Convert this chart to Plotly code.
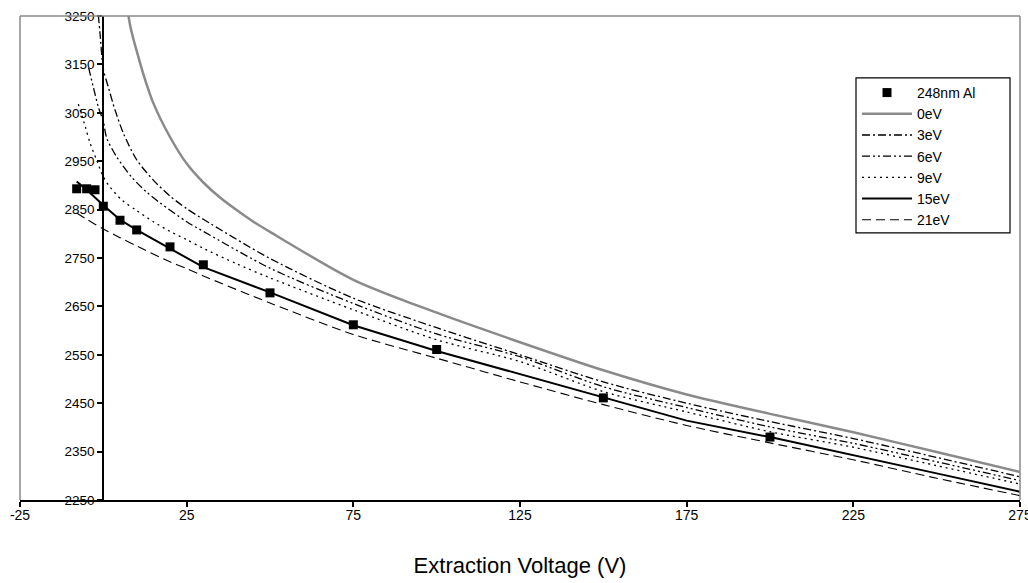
import plotly.graph_objects as go

# ---------------- data ----------------
pts_x = [-8, -5, -2.5, 0, 5, 10, 20, 30, 50, 75, 100, 150, 200]
pts_y = [2893, 2893, 2891, 2857, 2828, 2808, 2773, 2736, 2678, 2612, 2561, 2461, 2380]

e0_x = [7.3, 8, 9, 10, 12, 15, 20, 25, 30, 35, 40, 45, 50, 75, 100, 125, 150, 175, 200, 225, 250, 275]
e0_y = [3262, 3232, 3203, 3178, 3130, 3070, 3000, 2945, 2906, 2875, 2849, 2825, 2804, 2705, 2637, 2576, 2518, 2468, 2428, 2390, 2349, 2308]

e3_x = [-1.5, -1, 0, 1.5, 3.5, 6, 10, 15, 20, 25, 30, 50, 75, 100, 125, 150, 175, 200, 225, 250, 275]
e3_y = [3252, 3215, 3140, 3103, 3056, 3008, 2953, 2911, 2878, 2852, 2830, 2749, 2667, 2606, 2550, 2494, 2450, 2412, 2377, 2338, 2298]

e6_x = [-4.4, -3, -1.5, 0, 1, 4, 8.5, 13, 17, 25, 30, 50, 75, 100, 125, 150, 175, 200, 225, 250, 275]
e6_y = [3143, 3103, 3062, 3032, 2998, 2959, 2917, 2886, 2864, 2825, 2805, 2729, 2656, 2593, 2546, 2484, 2441, 2401, 2367, 2329, 2290]

e9_x = [-7.5, -5.4, -4, -2, 0, 1.5, 5.5, 10, 15, 20, 25, 30, 40, 50, 75, 100, 125, 150, 175, 200, 225, 250, 275]
e9_y = [3068, 3021, 2988, 2952, 2918, 2901, 2870, 2848, 2825, 2805, 2788, 2770, 2738, 2709, 2643, 2581, 2536, 2474, 2432, 2391, 2359, 2321, 2283]

e15_x = [-8, -5, 0, 5, 10, 20, 25, 30, 50, 75, 100, 125, 150, 175, 200, 225, 250, 275]
e15_y = [2908, 2891, 2859, 2829, 2808, 2769, 2750, 2731, 2679, 2611, 2558, 2510, 2461, 2414, 2380, 2343, 2305, 2267]

e21_x = [-8, -5, 0, 5, 10, 20, 25, 30, 50, 75, 100, 125, 150, 175, 200, 225, 250, 275]
e21_y = [2843, 2830, 2810, 2792, 2775, 2742, 2728, 2713, 2657, 2592, 2543, 2494, 2447, 2404, 2368, 2333, 2295, 2259]

y_ticks = [2250, 2350, 2450, 2550, 2650, 2750, 2850, 2950, 3050, 3150, 3250]
x_ticks = [-25, 25, 75, 125, 175, 225, 275]

# ---------------- figure ----------------
fig = go.Figure()

fig.add_trace(go.Scatter(x=pts_x, y=pts_y, mode="markers", name="248nm Al",
                         marker=dict(symbol="square", size=9, color="black")))
fig.add_trace(go.Scatter(x=e0_x, y=e0_y, mode="lines", name="0eV", line_shape="spline",
                         line=dict(color="#8a8a8a", width=2.5, smoothing=0.8)))
fig.add_trace(go.Scatter(x=e3_x, y=e3_y, mode="lines", name="3eV", line_shape="spline",
                         line=dict(color="black", width=1.3, dash="8px,3px,2px,3px", smoothing=0.8)))
fig.add_trace(go.Scatter(x=e6_x, y=e6_y, mode="lines", name="6eV", line_shape="spline",
                         line=dict(color="black", width=1.3, dash="8px,3px,2px,3px,2px,3px", smoothing=0.8)))
fig.add_trace(go.Scatter(x=e9_x, y=e9_y, mode="lines", name="9eV", line_shape="spline",
                         line=dict(color="black", width=1.3, dash="2px,4px", smoothing=0.8)))
fig.add_trace(go.Scatter(x=e15_x, y=e15_y, mode="lines", name="15eV",
                         line=dict(color="black", width=2)))
fig.add_trace(go.Scatter(x=e21_x, y=e21_y, mode="lines", name="21eV", line_shape="spline",
                         line=dict(color="black", width=1.1, dash="9px,5px", smoothing=0.8)))

fig.update_layout(
    width=1028, height=583,
    margin=dict(l=20, r=8, t=16, b=83, autoexpand=False),
    paper_bgcolor="white", plot_bgcolor="white",
    font=dict(family="Liberation Sans, Arial, sans-serif", color="black"),
    showlegend=True,
    legend=dict(x=0.837, y=0.874, xanchor="left", yanchor="top",
                borderwidth=0, bgcolor="rgba(0,0,0,0)",
                font=dict(size=14, family="Liberation Sans, Arial, sans-serif"),
                tracegroupgap=0, itemwidth=50),
    xaxis=dict(range=[-25, 275], tickvals=x_ticks, ticktext=[str(v) for v in x_ticks],
               automargin=False,
               showgrid=False, zeroline=False, showline=True, linecolor="black", linewidth=2,
               ticks="outside", ticklen=5, tickcolor="black", tickwidth=1.5,
               ticklabeloverflow="allow", ticklabelstandoff=-4,
               tickfont=dict(size=14, family="Liberation Sans Narrow, Arial Narrow, Liberation Sans"),
               title=dict(text="Extraction Voltage (V)", standoff=36,
                          font=dict(size=22, family="Liberation Sans, Arial, sans-serif"))),
    yaxis=dict(range=[2250, 3250], tickvals=y_ticks, ticktext=[str(v) for v in y_ticks],
               anchor="free", position=25/300, automargin=False,
               showgrid=False, zeroline=False, showline=True, linecolor="black", linewidth=2,
               ticks="outside", ticklen=5, tickcolor="black", tickwidth=1.5,
               tickfont=dict(size=13.5, family="Liberation Sans, Arial, sans-serif")),
    shapes=[dict(type="line", xref="paper", yref="paper", x0=0, x1=0, y0=0, y1=1,
                 line=dict(color="#888888", width=1.5)),
            dict(type="line", xref="paper", yref="paper", x0=0, x1=1, y0=1, y1=1,
                 line=dict(color="#888888", width=1.5)),
            dict(type="line", xref="paper", yref="paper", x0=1, x1=1, y0=0, y1=1,
                 line=dict(color="#888888", width=1.5)),
            # legend frame
            dict(type="rect", xref="paper", yref="paper", x0=0.836, x1=0.990, y0=0.552, y1=0.872,
                 line=dict(color="black", width=1.2), fillcolor="white", layer="above")],
)

fig.write_html("out.html")
